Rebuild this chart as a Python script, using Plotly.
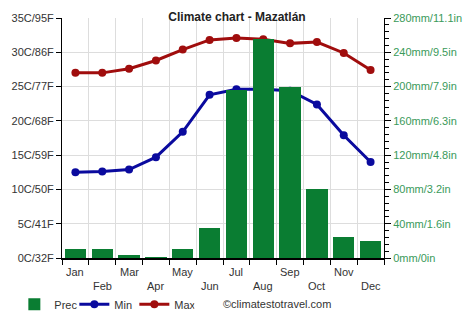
import plotly.graph_objects as go

months = ["Jan", "Feb", "Mar", "Apr", "May", "Jun",
          "Jul", "Aug", "Sep", "Oct", "Nov", "Dec"]
prec_mm = [10, 10, 4, 1, 10, 35, 196, 256, 200, 80, 25, 20]
temp_min = [12.5, 12.6, 12.9, 14.7, 18.4, 23.8, 24.6, 24.6, 24.4, 22.4, 17.9, 14.0]
temp_max = [27.0, 27.0, 27.6, 28.8, 30.4, 31.8, 32.1, 31.9, 31.3, 31.5, 29.9, 27.4]

c_ticks = [0, 5, 10, 15, 20, 25, 30, 35]
c_labels = ["0C/32F", "5C/41F", "10C/50F", "15C/59F",
            "20C/68F", "25C/77F", "30C/86F", "35C/95F"]
mm_ticks = [0, 40, 80, 120, 160, 200, 240, 280]
mm_labels = ["0mm/0in", "40mm/1.6in", "80mm/3.2in", "120mm/4.8in",
             "160mm/6.3in", "200mm/7.9in", "240mm/9.5in", "280mm/11.1in"]

FONT = "Liberation Sans, Arial, sans-serif"
GREEN = "#0a7d32"
BLUE = "#0a0a9e"
RED = "#a00d0d"

xs = [i + 0.5 for i in range(12)]

fig = go.Figure()
fig.add_trace(go.Bar(
    x=xs, y=prec_mm, width=0.8, name="Prec",
    marker=dict(color=GREEN, line=dict(width=0)),
    yaxis="y2",
))
fig.add_trace(go.Scatter(
    x=xs, y=temp_min, name="Min", mode="lines+markers",
    line=dict(color=BLUE, width=3), marker=dict(size=8, color=BLUE),
))
fig.add_trace(go.Scatter(
    x=xs, y=temp_max, name="Max", mode="lines+markers",
    line=dict(color=RED, width=3), marker=dict(size=8, color=RED),
))

# Staggered month labels: odd months on the first row, even months below
annotations = []
for i, m in enumerate(months):
    annotations.append(dict(
        x=xs[i], y=-0.058 if i % 2 == 0 else -0.118, xref="x", yref="paper",
        text=m, showarrow=False, xanchor="center", yanchor="middle",
        font=dict(family=FONT, size=11, color="#333"),
    ))
annotations.append(dict(
    x=0.494, y=-0.193, xref="paper", yref="paper",
    text="©climatestotravel.com", showarrow=False,
    xanchor="left", yanchor="middle",
    font=dict(family=FONT, size=11, color="#333"),
))

fig.update_layout(
    width=474, height=331,
    margin=dict(l=60, r=84, t=18, b=69),
    paper_bgcolor="white", plot_bgcolor="white",
    font=dict(family=FONT, size=11, color="#333"),
    title=dict(text="<b>Climate chart - Mazatlán</b>", x=0.5, xanchor="center",
               y=1 - 17 / 331, yanchor="middle",
               font=dict(family=FONT, size=12, color="#222")),
    showlegend=True,
    legend=dict(orientation="h", x=-0.148, y=-0.193, xanchor="left", yanchor="middle",
                font=dict(family=FONT, size=11, color="#333"),
                itemwidth=30, entrywidth=15, entrywidthmode="pixels"),
    bargap=0,
    annotations=annotations,
    xaxis=dict(
        range=[0, 12], tickmode="array", tickvals=list(range(13)),
        showticklabels=False, ticks="outside", ticklen=5, tickcolor="black",
        showgrid=True, gridcolor="#dddddd", gridwidth=1,
        showline=True, linecolor="black", linewidth=2, zeroline=False,
        fixedrange=True,
    ),
    yaxis=dict(
        range=[0, 35], tickmode="array", tickvals=c_ticks, ticktext=c_labels,
        ticks="outside", ticklen=5, tickcolor="black",
        showgrid=True, gridcolor="#dddddd", gridwidth=1,
        showline=True, linecolor="black", linewidth=1, zeroline=False,
        tickfont=dict(family=FONT, size=11, color="#333"),
    ),
    yaxis2=dict(
        range=[0, 280], overlaying="y", side="right",
        tickmode="array", tickvals=mm_ticks, ticktext=mm_labels,
        ticks="outside", ticklen=6, tickcolor="black",
        minor=dict(dtick=8, ticks="outside", ticklen=4, tickcolor="black", showgrid=False),
        showgrid=False, showline=True, linecolor="black", linewidth=1, zeroline=False,
        tickfont=dict(family=FONT, size=11, color="#3a9a5a"),
    ),
)

fig.write_html("out.html")
